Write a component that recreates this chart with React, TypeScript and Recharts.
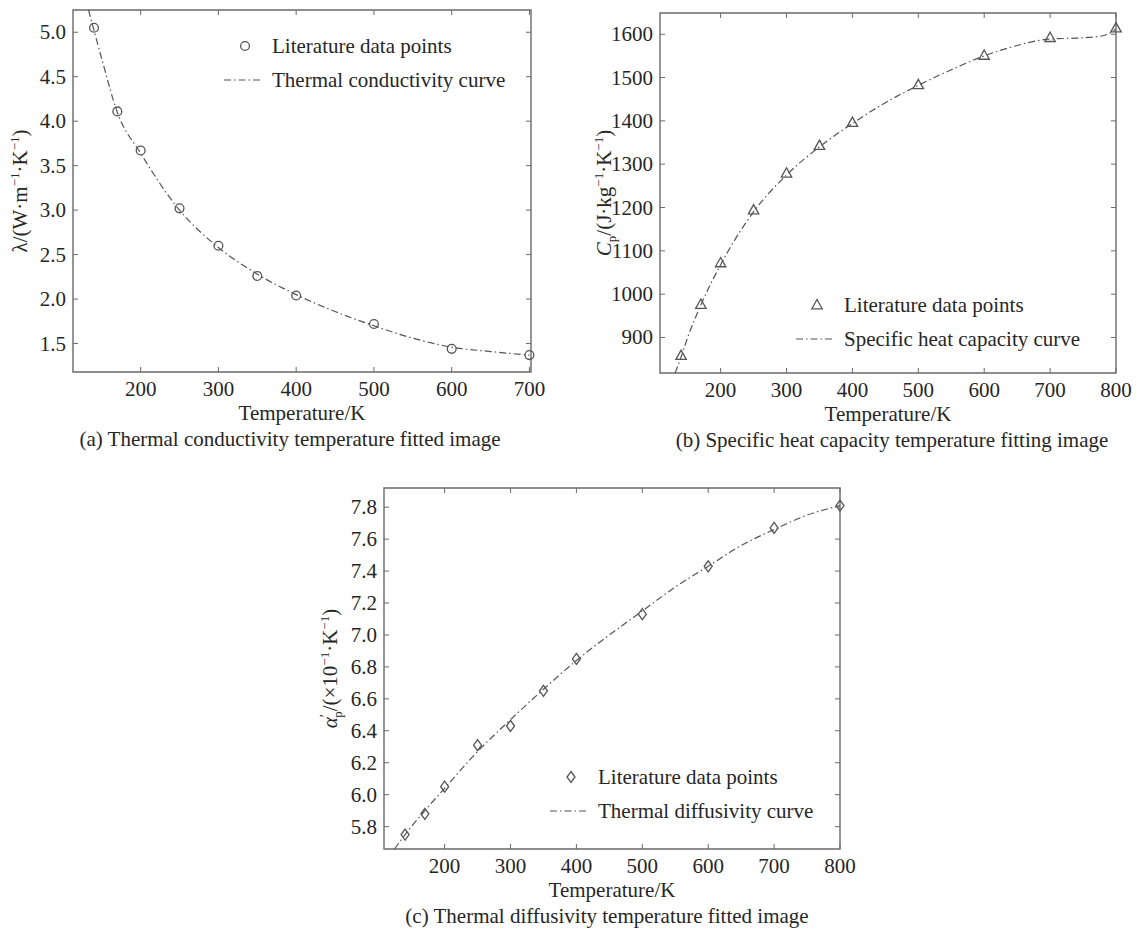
import React from "react";
import { LineChart, Line, XAxis, YAxis, Legend, ReferenceArea } from "recharts";

const FONT = '"Liberation Serif", "Times New Roman", serif';
const INK = "#262626";
const FRAME = "#6a6a6a";
const CURVE = "#555555";
const DASH = "7 3 1.5 3";

// (a) thermal conductivity
const tempA = [140, 170, 200, 250, 300, 350, 400, 500, 600, 700];
const condA = [5.05, 4.11, 3.67, 3.02, 2.6, 2.26, 2.04, 1.72, 1.44, 1.37];
const curveTempA = [133, 140, 150, 170, 200, 250, 300, 350, 400, 450, 500, 550, 600, 650, 700];
const curveCondA = [5.25, 5.02, 4.7, 4.1, 3.64, 3.0, 2.58, 2.28, 2.05, 1.86, 1.7, 1.56, 1.46, 1.41, 1.37];
const xTicksA = [200, 300, 400, 500, 600, 700];
const yTicksA = [1.5, 2.0, 2.5, 3.0, 3.5, 4.0, 4.5, 5.0];

// (b) specific heat capacity
const tempB = [140, 170, 200, 250, 300, 350, 400, 500, 600, 700, 800];
const cpB = [858, 976, 1072, 1194, 1279, 1343, 1396, 1483, 1551, 1592, 1614];
const curveTempB = [131, 140, 150, 170, 200, 250, 300, 350, 400, 450, 500, 550, 600, 650, 700, 740, 770, 790, 800];
const curveCpB = [818, 855, 900, 975, 1068, 1190, 1275, 1340, 1394, 1442, 1482, 1518, 1550, 1574, 1589, 1591, 1594, 1602, 1612];
const xTicksB = [200, 300, 400, 500, 600, 700, 800];
const yTicksB = [900, 1000, 1100, 1200, 1300, 1400, 1500, 1600];

// (c) thermal diffusivity
const tempC = [140, 170, 200, 250, 300, 350, 400, 500, 600, 700, 800];
const alphaC = [5.75, 5.88, 6.05, 6.31, 6.43, 6.65, 6.85, 7.13, 7.43, 7.67, 7.81];
const curveTempC = [124, 140, 170, 200, 250, 300, 350, 400, 450, 500, 550, 600, 650, 700, 750, 800];
const curveAlphaC = [5.66, 5.75, 5.9, 6.04, 6.27, 6.47, 6.66, 6.84, 7.0, 7.15, 7.3, 7.43, 7.56, 7.66, 7.75, 7.81];
const xTicksC = [200, 300, 400, 500, 600, 700, 800];
const yTicksC = [5.8, 6.0, 6.2, 6.4, 6.6, 6.8, 7.0, 7.2, 7.4, 7.6, 7.8];

const rows = (xs: number[], ys: number[]) => xs.map((t, i) => ({ t, v: ys[i] }));

type Marker = "circle" | "triangle" | "diamond";

function drawMarker(kind: Marker, cx: number, cy: number, key: string) {
  const st = { fill: "none", stroke: CURVE, strokeWidth: 1.3 };
  if (kind === "circle") return <circle key={key} cx={cx} cy={cy} r={4.4} {...st} />;
  if (kind === "triangle")
    return <path key={key} d={`M${cx},${cy - 5.5}L${cx + 5.2},${cy + 3.8}L${cx - 5.2},${cy + 3.8}Z`} {...st} />;
  return <path key={key} d={`M${cx},${cy - 5.5}L${cx + 4},${cy}L${cx},${cy + 5.5}L${cx - 4},${cy}Z`} {...st} />;
}

type PanelProps = {
  left: number;
  top: number;
  width: number;
  height: number;
  margin: { top: number; right: number; bottom: number; left: number };
  points: { t: number; v: number }[];
  curve: { t: number; v: number }[];
  xDomain: [number, number];
  yDomain: [number, number];
  xTicks: number[];
  yTicks: number[];
  yFmt: (v: number) => string;
  marker: Marker;
  pointLabel: string;
  curveLabel: string;
  legendPos: { left: number; top: number };
  yLabel: React.ReactNode;
  yLabelX: number;
  caption: string;
  captionX: number;
};

function Panel(p: PanelProps) {
  const plotLeft = p.margin.left + 60;
  const plotTop = p.margin.top;
  const plotBottom = p.height - p.margin.bottom - 30;
  const plotRight = p.width - p.margin.right;
  const midY = (plotTop + plotBottom) / 2;
  const midX = (plotLeft + plotRight) / 2;
  const textStyle = { fill: INK, fontSize: 21, fontFamily: FONT };
  const tickText = { fill: INK, fontSize: 21, fontFamily: FONT };

  // ticks point inwards on all four sides of the box, as in the MATLAB figure
  const xTick = (t: any) => (
    <g>
      <line x1={t.x} x2={t.x} y1={plotBottom} y2={plotBottom - 5} stroke={FRAME} />
      <line x1={t.x} x2={t.x} y1={plotTop} y2={plotTop + 5} stroke={FRAME} />
      <text x={t.x} y={plotBottom + 24} textAnchor="middle" {...tickText}>
        {t.payload.value}
      </text>
    </g>
  );
  const yTick = (t: any) => (
    <g>
      <line x1={plotLeft} x2={plotLeft + 5} y1={t.y} y2={t.y} stroke={FRAME} />
      <line x1={plotRight} x2={plotRight - 5} y1={t.y} y2={t.y} stroke={FRAME} />
      <text x={plotLeft - 7} y={t.y + 7} textAnchor="end" {...tickText}>
        {p.yFmt(t.payload.value)}
      </text>
    </g>
  );

  const legend = () => (
    <svg width={340} height={75} style={{ overflow: "visible", display: "block" }}>
      {drawMarker(p.marker, 30, 20, "lg")}
      <text x={57} y={27} {...textStyle}>{p.pointLabel}</text>
      <line x1={9} x2={48} y1={54} y2={54} stroke={CURVE} strokeWidth={1.2} strokeDasharray={DASH} />
      <text x={57} y={61} {...textStyle}>{p.curveLabel}</text>
    </svg>
  );

  return (
    <div style={{ position: "absolute", left: p.left, top: p.top }}>
      <LineChart width={p.width} height={p.height} margin={p.margin}>
        <XAxis
          type="number"
          dataKey="t"
          domain={p.xDomain}
          ticks={p.xTicks}
          interval={0}
          height={30}
          axisLine={false}
          tickLine={false}
          tick={xTick}
          label={() => (
            <g>
              <text x={midX} y={plotBottom + 48} textAnchor="middle" {...textStyle}>
                Temperature/K
              </text>
              <text x={p.captionX} y={plotBottom + 74} textAnchor="middle" {...textStyle}>
                {p.caption}
              </text>
            </g>
          )}
        />
        <YAxis
          type="number"
          domain={p.yDomain}
          ticks={p.yTicks}
          interval={0}
          width={60}
          axisLine={false}
          tickLine={false}
          tick={yTick}
          label={() => (
            <text
              x={p.yLabelX}
              y={midY}
              transform={`rotate(-90 ${p.yLabelX} ${midY})`}
              textAnchor="middle"
              {...textStyle}
            >
              {p.yLabel}
            </text>
          )}
        />
        <ReferenceArea
          x1={p.xDomain[0]}
          x2={p.xDomain[1]}
          y1={p.yDomain[0]}
          y2={p.yDomain[1]}
          fill="none"
          stroke={FRAME}
          strokeWidth={1.4}
          ifOverflow="visible"
        />
        <Line
          data={p.curve}
          dataKey="v"
          type="monotone"
          stroke={CURVE}
          strokeWidth={1.2}
          strokeDasharray={DASH}
          dot={false}
          activeDot={false}
          isAnimationActive={false}
        />
        <Line
          data={p.points}
          dataKey="v"
          stroke="none"
          dot={(d: any) => drawMarker(p.marker, d.cx, d.cy, `m${d.index}`)}
          activeDot={false}
          isAnimationActive={false}
        />
        <Legend
          layout="vertical"
          align="center"
          verticalAlign="middle"
          content={legend}
          wrapperStyle={{ left: p.legendPos.left, top: p.legendPos.top, width: 340, height: 75 }}
        />
      </LineChart>
    </div>
  );
}

const one = (v: number) => v.toFixed(1);
const whole = (v: number) => String(v);

const supTs = (k: string) => [
  <tspan key={k} dy={-8} fontSize={13}>−1</tspan>,
];

export default function App() {
  return (
    <div
      style={{
        position: "absolute",
        left: 0,
        top: 0,
        width: 1138,
        height: 929,
        background: "#fff",
        fontFamily: FONT,
      }}
    >
      <Panel
        left={0}
        top={0}
        width={560}
        height={460}
        margin={{ top: 10, right: 29, bottom: 58, left: 13 }}
        points={rows(tempA, condA)}
        curve={rows(curveTempA, curveCondA)}
        xDomain={[113, 702]}
        yDomain={[1.18, 5.25]}
        xTicks={xTicksA}
        yTicks={yTicksA}
        yFmt={one}
        marker="circle"
        pointLabel="Literature data points"
        curveLabel="Thermal conductivity curve"
        legendPos={{ left: 215, top: 26 }}
        yLabelX={27}
        yLabel={[
          <tspan key="0">λ/(W·m</tspan>,
          ...supTs("s1"),
          <tspan key="1" dy={8}>·K</tspan>,
          ...supTs("s2"),
          <tspan key="2" dy={8}>)</tspan>,
        ]}
        caption="(a) Thermal conductivity temperature fitted image"
        captionX={290}
      />
      <Panel
        left={570}
        top={0}
        width={568}
        height={460}
        margin={{ top: 13, right: 22, bottom: 57, left: 30 }}
        points={rows(tempB, cpB)}
        curve={rows(curveTempB, curveCpB)}
        xDomain={[108, 800]}
        yDomain={[818, 1649]}
        xTicks={xTicksB}
        yTicks={yTicksB}
        yFmt={whole}
        marker="triangle"
        pointLabel="Literature data points"
        curveLabel="Specific heat capacity curve"
        legendPos={{ left: 217, top: 285 }}
        yLabelX={41}
        yLabel={[
          <tspan key="0" fontStyle="italic">C</tspan>,
          <tspan key="1" dy={5} fontSize={13}>p</tspan>,
          <tspan key="2" dy={-5}>/(J·kg</tspan>,
          ...supTs("s1"),
          <tspan key="4" dy={8}>·K</tspan>,
          ...supTs("s2"),
          <tspan key="6" dy={8}>)</tspan>,
        ]}
        caption="(b) Specific heat capacity temperature fitting image"
        captionX={322}
      />
      <Panel
        left={290}
        top={470}
        width={580}
        height={459}
        margin={{ top: 18, right: 30, bottom: 50, left: 34 }}
        points={rows(tempC, alphaC)}
        curve={rows(curveTempC, curveAlphaC)}
        xDomain={[108, 800]}
        yDomain={[5.66, 7.92]}
        xTicks={xTicksC}
        yTicks={yTicksC}
        yFmt={one}
        marker="diamond"
        pointLabel="Literature data points"
        curveLabel="Thermal diffusivity curve"
        legendPos={{ left: 251, top: 287 }}
        yLabelX={47}
        yLabel={[
          <tspan key="0" fontStyle="italic">α</tspan>,
          <tspan key="1" dy={-7} fontSize={15}>′</tspan>,
          <tspan key="2" dy={12} dx={-4} fontSize={13}>p</tspan>,
          <tspan key="3" dy={-5}>/(×10</tspan>,
          ...supTs("s1"),
          <tspan key="5" dy={8}>·K</tspan>,
          ...supTs("s2"),
          <tspan key="7" dy={8}>)</tspan>,
        ]}
        caption="(c) Thermal diffusivity temperature fitted image"
        captionX={317}
      />
    </div>
  );
}
